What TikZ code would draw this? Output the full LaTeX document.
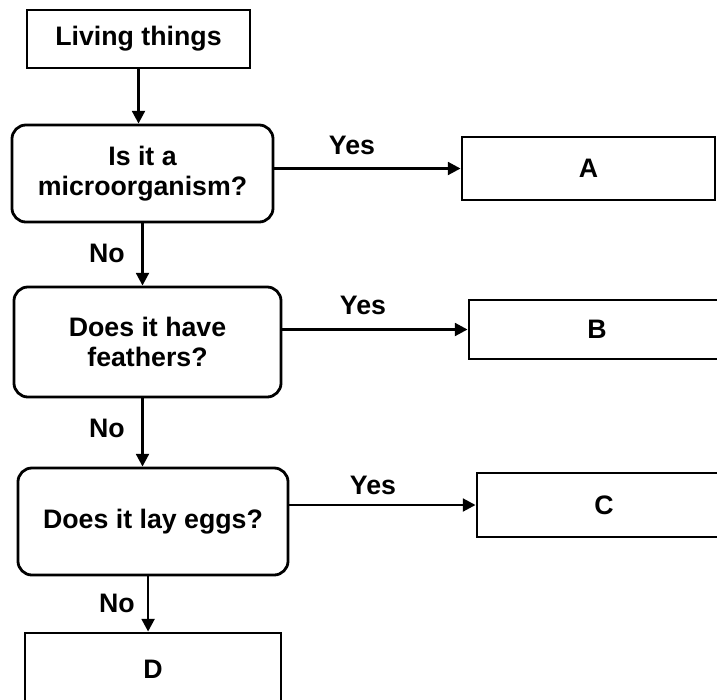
\documentclass[tikz,border=0pt]{standalone}
\usepackage{fontspec}
\setmainfont{Liberation Sans}
\usetikzlibrary{arrows.meta, positioning}

\begin{document}
\begin{tikzpicture}[x=0.025cm, y=-0.025cm,
  box/.style = {draw = black, line width = .7mm, font = \bfseries\fontsize{19}{21}\selectfont, align = center},
  question/.style = {box, rounded corners = 3.5mm},
  arr/.style = {draw = black, line width = .7mm, -{Triangle[length=9pt, width=9pt]}},
  lbl/.style = {font = \bfseries\fontsize{19}{21}\selectfont}]

\useasboundingbox (0,0) rectangle (717,699);
\clip (0,0) rectangle (717,699);

\node (living) at (138.5,39) [box, minimum width = 5.575cm, minimum height = 1.45cm] {Living things};

\node (q1) at (142.5,173.5) [question, minimum width = 6.525cm, minimum height = 2.425cm] {Is it a\\microorganism?};
\node (q2) at (147.5,342) [question, minimum width = 6.675cm, minimum height = 2.75cm] {Does it have\\feathers?};
\node (q3) at (153,521.5) [question, minimum width = 6.75cm, minimum height = 2.675cm] {Does it lay eggs?};

\node (A) at (588.5,168.5) [box, minimum width = 6.325cm, minimum height = 1.575cm] {A};
\node (B) at (597,329.5) [box, minimum width = 6.4cm, minimum height = 1.475cm] {B};
\node (C) at (604,505) [box, minimum width = 6.35cm, minimum height = 1.6cm] {C};
\node (D) at (153,669.5) [box, minimum width = 6.4cm, minimum height = 1.825cm] {D};

% down the No branch
\draw [arr] (living.south) -- (living.south |- q1.north);
\draw [arr] (q1.south) -- (q1.south |- q2.north);
\draw [arr] (q1.south |- q2.south) -- (q1.south |- q3.north);
\coordinate (q3out) at ([xshift=-3.5pt]q3.south);
\draw [arr] (q3out) -- (q3out |- D.north);

% across on Yes
\draw [arr] (q1.east |- A.west) -- (A.west);
\draw [arr] (q2.east |- B.west) -- (B.west);
\draw [arr] (q3.east |- C.west) -- (C.west);

\node (yes1) at (352,145) [lbl] {Yes};
\node (yes2) at (363,305) [lbl] {Yes};
\node (yes3) at (373,485) [lbl] {Yes};
\node (no1) at (107,253) [lbl] {No};
\node (no2) at (107,428) [lbl] {No};
\node (no3) at (117,603) [lbl] {No};

\end{tikzpicture}
\end{document}
